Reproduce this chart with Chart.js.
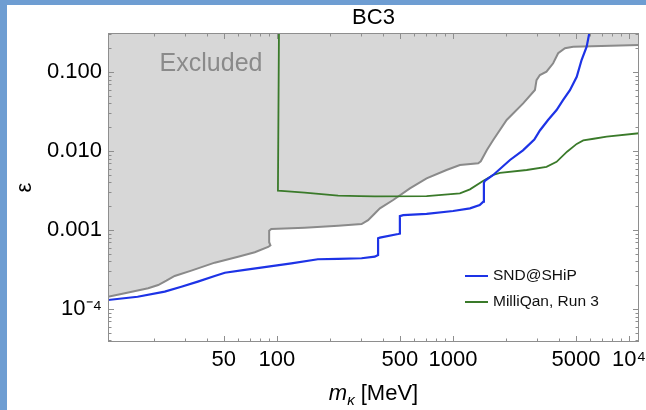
<!DOCTYPE html>
<html>
<head>
<meta charset="utf-8">
<title>BC3</title>
<script src="https://cdn.jsdelivr.net/npm/chart.js@4.4.1/dist/chart.umd.min.js"></script>
<style>
  html, body { margin: 0; padding: 0; width: 646px; height: 410px; overflow: hidden; background: #6e9dd2; }
  #panel { position: absolute; left: 7px; top: 5px; width: 639px; height: 405px; background: #ffffff; }
  #wrap { position: absolute; left: 0; top: 0; width: 646px; height: 410px; }
</style>
</head>
<body>
<div id="panel"></div>
<div id="wrap"><canvas id="chart" width="646" height="410"></canvas></div>
<script>
// Excluded region boundary (mass in MeV, epsilon)
const excludedMass = [11, 13.7, 18.6, 21.2, 23.6, 26.3, 32.7, 44.4, 60.3, 75, 89.3, 92, 90.5, 90.5, 93,
  144, 223, 303, 330, 360, 385, 458, 570, 709, 920, 1096, 1393, 1440, 1560, 1694, 2020, 2506, 2924,
  2985, 3120, 3400, 3710, 3960, 4330, 4820, 11400];
const excludedEps = [1.43e-4, 1.58e-4, 1.83e-4, 2.01e-4, 2.28e-4, 2.62e-4, 3.06e-4, 3.86e-4, 4.59e-4, 5.22e-4,
  6.1e-4, 6.4e-4, 7.0e-4, 9.8e-4, 1.03e-3, 1.07e-3, 1.13e-3, 1.19e-3, 1.33e-3, 1.62e-3, 1.88e-3, 2.4e-3,
  3.37e-3, 4.5e-3, 5.75e-3, 6.65e-3, 6.98e-3, 7.4e-3, 1.03e-2, 1.38e-2, 2.47e-2, 4.01e-2, 5.92e-2,
  7.9e-2, 9.16e-2, 0.101, 0.129, 0.173, 0.200, 0.209, 0.220];

// SND@SHiP sensitivity
const sndMass = [11, 16.2, 23.1, 28.7, 35.6, 44.4, 50.7, 65.8, 89.3, 121, 171, 223, 303, 360, 376, 376,
  385, 489, 500, 500, 522, 709, 1003, 1250, 1420, 1490, 1500, 1520, 1694, 2110, 2500, 2900, 3120,
  3470, 3880, 4220, 4620, 5050, 5380, 5750, 6000];
const sndEps = [1.30e-4, 1.43e-4, 1.66e-4, 1.91e-4, 2.22e-4, 2.62e-4, 2.88e-4, 3.12e-4, 3.43e-4, 3.78e-4,
  4.26e-4, 4.30e-4, 4.39e-4, 4.60e-4, 4.83e-4, 7.85e-4, 8.0e-4, 8.9e-4, 9.0e-4, 1.50e-3, 1.54e-3,
  1.60e-3, 1.74e-3, 1.88e-3, 2.07e-3, 2.29e-3, 3.97e-3, 4.2e-3, 4.97e-3, 7.7e-3, 1.02e-2, 1.40e-2,
  1.82e-2, 2.47e-2, 3.3e-2, 4.4e-2, 5.9e-2, 8.7e-2, 0.142, 0.209, 0.34];

// MilliQan, Run 3 sensitivity
const milliMass = [103, 101.5, 111, 144, 223, 297, 360, 709, 1096, 1250, 1490, 1694, 1850, 2625, 3400,
  3880, 4450, 5050, 5500, 6300, 7470, 11400];
const milliEps = [0.5, 3.15e-3, 3.1e-3, 2.97e-3, 2.72e-3, 2.68e-3, 2.66e-3, 2.69e-3, 2.91e-3, 3.27e-3,
  4.2e-3, 4.97e-3, 5.3e-3, 5.75e-3, 6.3e-3, 7.3e-3, 9.8e-3, 1.23e-2, 1.36e-2, 1.43e-2, 1.52e-2, 1.68e-2];

// Axis ticks and their labels ('' = unlabeled minor tick)
const xTickValues = [20, 30, 40, 50, 60, 70, 80, 90, 100, 200, 300, 400, 500, 600, 700, 800, 900,
  1000, 2000, 3000, 4000, 5000, 6000, 7000, 8000, 9000, 10000];
const xTickLabels = ['', '', '', '50', '', '', '', '', '100', '', '', '', '500', '', '', '', '',
  '1000', '', '', '', '5000', '', '', '', '', '10\u2074'];
const yTickValues = [4e-5, 5e-5, 6e-5, 7e-5, 8e-5, 9e-5, 1e-4, 2e-4, 3e-4, 4e-4, 5e-4, 6e-4, 7e-4, 8e-4, 9e-4,
  1e-3, 2e-3, 3e-3, 4e-3, 5e-3, 6e-3, 7e-3, 8e-3, 9e-3, 1e-2, 2e-2, 3e-2, 4e-2, 5e-2, 6e-2, 7e-2, 8e-2, 9e-2,
  0.1, 0.2, 0.3];
const yTickLabels = ['', '', '', '', '', '', '10\u207B\u2074', '', '', '', '', '', '', '', '',
  '0.001', '', '', '', '', '', '', '', '', '0.010', '', '', '', '', '', '', '', '', '0.100', '', ''];

const seriesLabels = ['Excluded', 'SND@SHiP', 'MilliQan, Run 3'];
const excludedTextAt = { mass: 21.6, eps: 0.126 };

const FONT = '"Liberation Sans", Arial, Helvetica, sans-serif';
Chart.defaults.font.family = FONT;
Chart.defaults.color = '#000';

const toPoints = (xs, ys) => xs.map((v, i) => ({ x: v, y: ys[i] }));

// Frame with inward tick marks on all four sides
const frameTicks = {
  id: 'frameTicks',
  afterDatasetsDraw(chart) {
    const { ctx, chartArea: a, scales: { x, y } } = chart;
    ctx.save();
    ctx.strokeStyle = '#8e8e8e';
    ctx.lineWidth = 1;
    ctx.beginPath();
    x.ticks.forEach((t, i) => {
      const px = Math.round(x.getPixelForValue(t.value)) + 0.5;
      const len = xTickLabels[i] ? 6 : 3.5;
      ctx.moveTo(px, a.bottom); ctx.lineTo(px, a.bottom - len);
      ctx.moveTo(px, a.top); ctx.lineTo(px, a.top + len);
    });
    y.ticks.forEach((t, i) => {
      const py = Math.round(y.getPixelForValue(t.value)) + 0.5;
      const len = yTickLabels[i] ? 6 : 3.5;
      ctx.moveTo(a.left, py); ctx.lineTo(a.left + len, py);
      ctx.moveTo(a.right, py); ctx.lineTo(a.right - len, py);
    });
    ctx.stroke();
    ctx.strokeRect(Math.round(a.left) + 0.5, Math.round(a.top) + 0.5,
      Math.round(a.width) - 1, Math.round(a.height) - 1);

    // "Excluded" region label
    ctx.fillStyle = '#8a8a8a';
    ctx.font = '25px ' + FONT;
    ctx.textBaseline = 'middle';
    ctx.textAlign = 'left';
    ctx.fillText(seriesLabels[0], x.getPixelForValue(excludedTextAt.mass), y.getPixelForValue(excludedTextAt.eps));
    ctx.restore();
  }
};

// Legend inside the plot, lower right
const insetLegend = {
  id: 'insetLegend',
  afterDraw(chart) {
    const { ctx, chartArea: a } = chart;
    ctx.save();
    ctx.font = '15.5px ' + FONT;
    ctx.textBaseline = 'middle';
    ctx.textAlign = 'left';
    [1, 2].forEach((di, row) => {
      const ds = chart.data.datasets[di];
      const yy = a.bottom - 66 + row * 26;
      const x0 = a.right - 174;
      ctx.strokeStyle = ds.borderColor;
      ctx.lineWidth = 2;
      ctx.beginPath(); ctx.moveTo(x0, yy); ctx.lineTo(x0 + 23, yy); ctx.stroke();
      ctx.fillStyle = '#111';
      ctx.fillText(ds.label, x0 + 28, yy);
    });
    ctx.restore();
  }
};

// x-axis title with subscript kappa
const axisTitleX = {
  id: 'axisTitleX',
  afterDraw(chart) {
    const { ctx, chartArea: a, scales: { x } } = chart;
    const parts = [
      { t: 'm', f: 'italic 22px ' + FONT, dy: 0 },
      { t: '\u03BA', f: 'italic 15px ' + FONT, dy: 5 },
      { t: ' [MeV]', f: '22px ' + FONT, dy: 0 }
    ];
    ctx.save();
    ctx.fillStyle = '#000';
    ctx.textBaseline = 'alphabetic';
    ctx.textAlign = 'left';
    let total = 0;
    parts.forEach(p => { ctx.font = p.f; p.w = ctx.measureText(p.t).width; total += p.w; });
    let cx = (a.left + a.right) / 2 - total / 2;
    const base = x.bottom - 10;
    parts.forEach(p => { ctx.font = p.f; ctx.fillText(p.t, cx, base + p.dy); cx += p.w; });
    ctx.restore();
  }
};

new Chart(document.getElementById('chart'), {
  type: 'line',
  data: {
    datasets: [
      {
        label: seriesLabels[0],
        data: toPoints(excludedMass, excludedEps),
        borderColor: '#8a8a8a',
        backgroundColor: '#d7d7d7',
        borderWidth: 2,
        fill: 'end',
        pointRadius: 0,
        tension: 0,
        order: 3
      },
      {
        label: seriesLabels[1],
        data: toPoints(sndMass, sndEps),
        borderColor: '#1d33e6',
        borderWidth: 2.2,
        fill: false,
        pointRadius: 0,
        tension: 0,
        order: 1
      },
      {
        label: seriesLabels[2],
        data: toPoints(milliMass, milliEps),
        borderColor: '#3a7a2a',
        borderWidth: 1.8,
        fill: false,
        pointRadius: 0,
        tension: 0,
        order: 2
      }
    ]
  },
  options: {
    responsive: false,
    animation: false,
    devicePixelRatio: 1,
    layout: { autoPadding: false, padding: { top: 4.6, right: 7, bottom: 0, left: 0 } },
    plugins: {
      legend: { display: false },
      tooltip: { enabled: false },
      title: {
        display: true, text: 'BC3', fullSize: false, color: '#000',
        font: { size: 22, weight: 'normal', family: FONT },
        padding: { top: 0, bottom: 2 }
      }
    },
    scales: {
      x: {
        type: 'logarithmic', min: 11, max: 11400, bounds: 'data',
        grid: { display: false, drawTicks: false }, border: { display: false },
        afterBuildTicks: s => { s.ticks = xTickValues.map(v => ({ value: v })); },
        afterFit: s => { s.height = 68; s.paddingLeft = 0; s.paddingRight = 0; },
        ticks: {
          autoSkip: false, maxRotation: 0, minRotation: 0, padding: 5, color: '#000',
          font: { size: 22 }, callback: (v, i) => xTickLabels[i]
        }
      },
      y: {
        type: 'logarithmic', min: 3.82e-5, max: 0.312, bounds: 'data',
        grid: { display: false, drawTicks: false }, border: { display: false },
        afterBuildTicks: s => { s.ticks = yTickValues.map(v => ({ value: v })); },
        afterFit: s => { s.width = 108; s.paddingTop = 0; s.paddingBottom = 0; },
        ticks: {
          autoSkip: false, padding: 6, color: '#000',
          font: { size: 22 }, callback: (v, i) => yTickLabels[i]
        },
        title: {
          display: true, text: '\u03B5', color: '#000',
          font: { size: 22 }, padding: { top: 12, bottom: 0 }
        }
      }
    }
  },
  plugins: [frameTicks, insetLegend, axisTitleX]
});
</script>
</body>
</html>
